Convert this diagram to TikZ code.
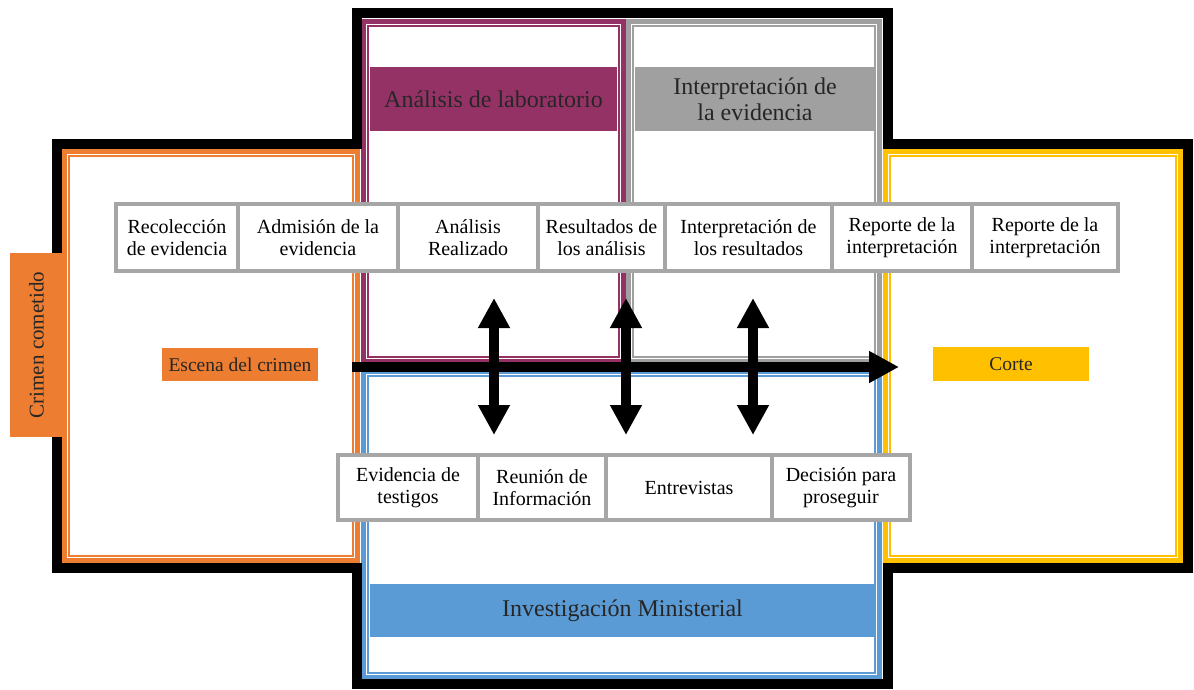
\documentclass[tikz,border=0pt]{standalone}
\usepackage{fontspec}
\setmainfont{Liberation Serif}
\usetikzlibrary{arrows.meta}
\definecolor{corange}{HTML}{ED7D31}
\definecolor{cpurple}{HTML}{953265}
\definecolor{cgray}{HTML}{A0A0A0}
\definecolor{cblue}{HTML}{5B9BD5}
\definecolor{cyellow}{HTML}{FFC000}
\definecolor{cbox}{HTML}{A6A6A6}
\begin{document}
\begin{tikzpicture}[x=1pt,y=-1pt,
  thickband/.style={line width=5pt},
  thinband/.style={line width=1.5pt},
  cell/.style={draw=cbox, line width=4pt, fill=white, inner sep=0pt, align=center,
    font=\fontsize{20}{22}\selectfont, text=black},
  header/.style={inner sep=0pt, align=center, font=\fontsize{24}{26}\selectfont, text=black!85},
  tag/.style={inner sep=0pt, align=center, font=\fontsize{19.5}{21}\selectfont, text=black!85},
  dblarrow/.style={line width=10pt, arrows={Triangle[width=30pt,length=30pt]-Triangle[width=30pt,length=30pt]}},
  onearrow/.style={line width=10pt, arrows={-Triangle[width=30pt,length=30pt]}}
]
\useasboundingbox (0,0) rectangle (1194,689);
% panels
\draw[corange,thickband] (64.5,151.5) rectangle (357.5,560.5);
\draw[corange,thinband] (69,156) rectangle (353,556);
\draw[cyellow,thickband] (885.5,151.5) rectangle (1180.5,560.5);
\draw[cyellow,thinband] (890,156) rectangle (1176,556);
\draw[cpurple,thickband] (363.5,21.5) rectangle (623.5,361.5);
\draw[cpurple,thinband] (368,26) rectangle (619,357);
\draw[cgray,thickband] (628.5,21.5) rectangle (879.5,361.5);
\draw[cgray,thinband] (633,26) rectangle (875,357);
\draw[cblue,thickband] (363.5,371.5) rectangle (879.5,677.5);
\draw[cblue,thinband] (368,376) rectangle (875,673);
% black outline
\draw[line width=10pt, miter limit=10] (357,13) -- (888,13) -- (888,144) -- (1188,144) -- (1188,568)
  -- (888,568) -- (888,684) -- (357,684) -- (357,568) -- (57,568) -- (57,144) -- (357,144) -- cycle;
% headers
\node[header, fill=cpurple, minimum width=247pt, minimum height=64pt] (hlab) at (493.5,99) {Análisis de laboratorio};
\node[header, fill=cgray, minimum width=240pt, minimum height=64pt] (hint) at (755,99) {Interpretación de\\la evidencia};
\node[header, fill=cblue, minimum width=505pt, minimum height=53pt] (hinv) at (622.5,610.5) {Investigación Ministerial};
\node[header, fill=corange, minimum width=184pt, minimum height=53pt, font=\fontsize{21}{23}\selectfont, rotate=90] (crimen) at (36.5,345) {Crimen cometido};
\node[tag, fill=corange, minimum width=156pt, minimum height=33pt] (escena) at (240,364.5) {Escena del crimen};
\node[tag, fill=cyellow, minimum width=156pt, minimum height=34pt] (corte) at (1011,364) {Corte};
% top row
\node[cell, minimum width=122pt, minimum height=67pt] (t1) at (177,237.5) {Recolección\\de evidencia};
\node[cell, minimum width=160pt, minimum height=67pt] (t2) at (318,237.5) {Admisión de la\\evidencia};
\node[cell, minimum width=140pt, minimum height=67pt] (t3) at (468,237.5) {Análisis\\Realizado};
\node[cell, minimum width=127pt, minimum height=67pt] (t4) at (601.5,237.5) {Resultados de\\los análisis};
\node[cell, minimum width=167pt, minimum height=67pt] (t5) at (748.5,237.5) {Interpretación de\\los resultados};
\node[cell, minimum width=140pt, minimum height=67pt] (t6) at (902,237.5) {Reporte de la\\interpretación};
\node[cell, minimum width=146pt, minimum height=67pt] (t7) at (1045,237.5) {Reporte de la\\interpretación};
% bottom row
\node[cell, minimum width=140pt, minimum height=65pt] (b1) at (408,487.5) {Evidencia de\\testigos};
\node[cell, minimum width=128pt, minimum height=65pt] (b2) at (542,487.5) {Reunión de\\Información};
\node[cell, minimum width=166pt, minimum height=65pt] (b3) at (689,487.5) {Entrevistas};
\node[cell, minimum width=138pt, minimum height=65pt] (b4) at (841,487.5) {Decisión para\\proseguir};
% arrows
\coordinate (hs) at (352,367);
\coordinate (he) at (899,367);
\draw[onearrow] (hs) -- (he);
\coordinate (a1t) at (494,298); \coordinate (a1b) at (494,435);
\coordinate (a2t) at (626,298); \coordinate (a2b) at (626,435);
\coordinate (a3t) at (753,298); \coordinate (a3b) at (753,435);
\draw[dblarrow] (a1t) -- (a1b);
\draw[dblarrow] (a2t) -- (a2b);
\draw[dblarrow] (a3t) -- (a3b);
\end{tikzpicture}
\end{document}
